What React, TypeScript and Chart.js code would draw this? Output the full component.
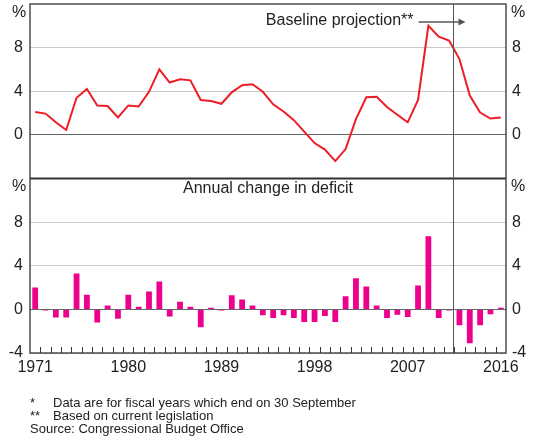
import React, { useEffect, useRef } from 'react';
import { Chart, registerables } from 'chart.js';

Chart.register(...registerables);

const years = [
  '1971', '1972', '1973', '1974', '1975', '1976', '1977', '1978', '1979', '1980',
  '1981', '1982', '1983', '1984', '1985', '1986', '1987', '1988', '1989', '1990',
  '1991', '1992', '1993', '1994', '1995', '1996', '1997', '1998', '1999', '2000',
  '2001', '2002', '2003', '2004', '2005', '2006', '2007', '2008', '2009', '2010',
  '2011', '2012', '2013', '2014', '2015', '2016',
];

// Budget deficit, % of GDP
const deficit = [
  2.1, 1.95, 1.15, 0.45, 3.4, 4.2, 2.7, 2.65, 1.6, 2.7,
  2.6, 3.95, 6.0, 4.8, 5.1, 5.0, 3.2, 3.1, 2.85, 3.9,
  4.55, 4.65, 3.95, 2.8, 2.15, 1.35, 0.3, -0.75, -1.35, -2.4,
  -1.3, 1.45, 3.45, 3.5, 2.55, 1.85, 1.15, 3.2, 10.0, 9.0,
  8.65, 6.95, 3.6, 2.05, 1.5, 1.6,
];

// Annual change in deficit, percentage points
const deficitChange = [
  2.0, -0.1, -0.75, -0.75, 3.3, 1.35, -1.2, 0.35, -0.85, 1.35,
  0.25, 1.65, 2.55, -0.65, 0.7, 0.25, -1.65, 0.15, -0.1, 1.3,
  0.9, 0.35, -0.55, -0.8, -0.55, -0.8, -1.15, -1.15, -0.6, -1.15,
  1.2, 2.85, 2.1, 0.35, -0.8, -0.5, -0.7, 2.2, 6.7, -0.8,
  -0.1, -1.45, -3.1, -1.45, -0.45, 0.15,
];

const xTickLabels = ['1971', '1980', '1989', '1998', '2007', '2016'];
const topPanelTicks = [0, 4, 8];
const bottomPanelTicks = [-4, 0, 4, 8];
const projectionStart = '2012';

const FONT = '"Liberation Sans", Arial, Helvetica, sans-serif';
const TEXT = '#222222';
const LINE_RED = '#ee1c25';
const BAR_PINK = '#ec008c';

const overlayPlugin = {
  id: 'overlay',
  afterDraw(chart: any) {
    const { ctx, chartArea: a, scales } = chart;
    const x = scales.x;
    const yT = scales.yTop;
    const yB = scales.yBot;
    ctx.save();

    const half = (x.getPixelForValue(1) - x.getPixelForValue(0)) / 2;
    const pi = years.indexOf(projectionStart);
    const vx = Math.round(x.getPixelForValue(pi) - half) - 0.5;

    // frame
    ctx.strokeStyle = '#333';
    ctx.lineWidth = 1.3;
    ctx.strokeRect(a.left, a.top, a.right - a.left, a.bottom - a.top);
    ctx.lineWidth = 2;
    ctx.beginPath();
    ctx.moveTo(a.left, yB.top);
    ctx.lineTo(a.right, yB.top);
    ctx.stroke();

    // projection divider
    ctx.strokeStyle = '#555';
    ctx.lineWidth = 1;
    ctx.beginPath();
    ctx.moveTo(vx, a.top);
    ctx.lineTo(vx, a.bottom);
    ctx.stroke();

    // inward tick marks on bottom axis (year boundaries)
    ctx.fillStyle = '#333333';
    for (let k = 1; k < years.length; k++) {
      const bx = Math.round(x.getPixelForValue(k) - half);
      ctx.fillRect(bx, a.bottom - 6, 1, 6);
    }

    // % unit labels
    ctx.fillStyle = TEXT;
    ctx.font = `16px ${FONT}`;
    ctx.textAlign = 'center';
    ctx.textBaseline = 'middle';
    [yT, yB].forEach((s: any) => {
      ctx.fillText('%', a.left - 11, s.top + 8.5);
      ctx.fillText('%', a.right + 12, s.top + 8.5);
    });

    // panel title
    ctx.fillText('Annual change in deficit', (a.left + a.right) / 2, yB.top + 10);

    // projection annotation
    const ay = yT.top + 18;
    ctx.textAlign = 'right';
    ctx.fillText('Baseline projection**', vx - 40, ay - 1);
    ctx.strokeStyle = '#555';
    ctx.fillStyle = '#555';
    ctx.lineWidth = 1.5;
    ctx.beginPath();
    ctx.moveTo(vx - 35, ay);
    ctx.lineTo(vx + 6, ay);
    ctx.stroke();
    ctx.beginPath();
    ctx.moveTo(vx + 12, ay);
    ctx.lineTo(vx + 5, ay - 3.5);
    ctx.lineTo(vx + 5, ay + 3.5);
    ctx.closePath();
    ctx.fill();

    ctx.restore();
  },
};

function zeroPad(s: any) {
  s.paddingTop = 0;
  s.paddingBottom = 0;
  s.paddingLeft = 0;
  s.paddingRight = 0;
}

function yAxis(position: 'left' | 'right', stack: string, shown: number[], width: number, grid: boolean) {
  return {
    type: 'linear' as const,
    position,
    stack,
    stackWeight: 1,
    min: -4,
    max: 12,
    display: true,
    border: { display: false },
    grid: {
      display: grid,
      drawTicks: false,
      lineWidth: 1,
      color: (c: any) => (c.tick && c.tick.value === 0 ? '#666666' : '#cacaca'),
    },
    ticks: {
      stepSize: 4,
      padding: position === 'left' ? 7 : 6,
      color: TEXT,
      font: { family: FONT, size: 16 },
      callback: (v: any) => (shown.includes(v) ? String(v) : null),
    },
    afterFit: (s: any) => {
      s.width = width;
      zeroPad(s);
    },
  };
}

export default function App() {
  const ref = useRef<HTMLCanvasElement>(null);

  useEffect(() => {
    if (!ref.current) return;
    const chart = new Chart(ref.current, {
      type: 'bar',
      data: {
        labels: years,
        datasets: [
          {
            type: 'line',
            label: 'Deficit',
            data: deficit,
            yAxisID: 'yTop',
            borderColor: LINE_RED,
            borderWidth: 2,
            pointRadius: 0,
            tension: 0,
            fill: false,
          } as any,
          {
            type: 'bar',
            label: 'Annual change in deficit',
            data: deficitChange,
            yAxisID: 'yBot',
            backgroundColor: BAR_PINK,
            barPercentage: 0.56,
            categoryPercentage: 1,
          } as any,
        ],
      },
      options: {
        responsive: false,
        animation: false,
        devicePixelRatio: 1,
        layout: { padding: { top: 4, left: 0, right: 0, bottom: 59 } },
        plugins: {
          legend: { display: false },
          tooltip: { enabled: false },
          title: { display: false },
        },
        scales: {
          x: {
            type: 'category',
            position: 'bottom',
            offset: true,
            border: { display: false },
            grid: { display: false, drawTicks: false, offset: true },
            ticks: {
              autoSkip: false,
              maxRotation: 0,
              padding: 5,
              color: TEXT,
              font: { family: FONT, size: 16 },
              callback: (_v: any, i: number) => (xTickLabels.includes(years[i]) ? years[i] : ''),
            },
            afterFit: (s: any) => {
              s.height = 30;
              zeroPad(s);
            },
          },
          // left stack: first listed is laid out at the bottom
          yBot: yAxis('left', 'L', bottomPanelTicks, 30, true),
          yTop: yAxis('left', 'L', topPanelTicks, 30, true),
          // right stack: first listed is laid out at the top
          yTopR: yAxis('right', 'R', topPanelTicks, 29, false),
          yBotR: yAxis('right', 'R', bottomPanelTicks, 29, false),
        } as any,
      },
      plugins: [overlayPlugin],
    });
    return () => chart.destroy();
  }, []);

  const note: React.CSSProperties = {
    position: 'absolute',
    fontSize: 13,
    lineHeight: '14px',
    color: TEXT,
    whiteSpace: 'nowrap',
  };

  return (
    <div
      style={{
        position: 'absolute',
        left: 0,
        top: 0,
        width: 535,
        height: 442,
        background: '#ffffff',
        fontFamily: FONT,
      }}
    >
      <canvas ref={ref} width={535} height={442} style={{ display: 'block', width: 535, height: 442 }} />
      <div style={{ ...note, left: 30, top: 396 }}>*</div>
      <div style={{ ...note, left: 53, top: 396 }}>Data are for fiscal years which end on 30 September</div>
      <div style={{ ...note, left: 30, top: 409 }}>**</div>
      <div style={{ ...note, left: 53, top: 409 }}>Based on current legislation</div>
      <div style={{ ...note, left: 30, top: 422 }}>Source: Congressional Budget Office</div>
    </div>
  );
}
